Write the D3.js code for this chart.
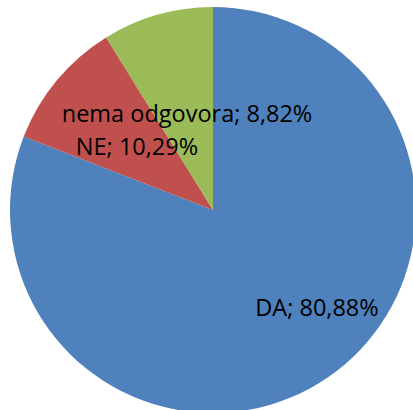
<!DOCTYPE html>
<html>
<head>
<meta charset="utf-8">
<script src="https://cdn.jsdelivr.net/npm/d3@7"></script>
<style>
  body { margin: 0; background: #fff; }
  svg { display: block; }
</style>
</head>
<body>
<div id="container"></div>
<script>
/* DATA */
const categories = ["DA", "NE", "nema odgovora"];
const values = [80.88, 10.29, 8.82];
const labels = ["DA; 80,88%", "NE; 10,29%", "nema odgovora; 8,82%"];

/* CONSTANTS AND GLOBALS */
const width = 413,
  height = 410,
  cx = 213,
  cy = 210,
  radius = 203;

const colors = ["#4F81BD", "#C0504D", "#9BBB59"];
// where Excel left the data labels (label centre x / baseline y, relative to pie centre)
const labelPos = [[104, 106], [-76, -55], [-26, -88]];

const rows = categories.map((c, i) => ({ cat: c, value: values[i], label: labels[i] }));

const svg = d3.select("#container")
  .append("svg")
  .attr("width", width)
  .attr("height", height);

const g = svg.append("g")
  .attr("transform", `translate(${cx}, ${cy})`);

const pie = d3.pie()
  .value(d => d.value)
  .sort(null);

const arcGen = d3.arc()
  .innerRadius(0)
  .outerRadius(radius);

const arcs = pie(rows);

g.selectAll("path.slice")
  .data(arcs)
  .join("path")
  .attr("class", "slice")
  .attr("d", arcGen)
  .attr("fill", (d, i) => colors[i])
  .attr("stroke", "none");

g.selectAll("text.lbl")
  .data(arcs)
  .join("text")
  .attr("class", "lbl")
  .attr("x", (d, i) => labelPos[i][0])
  .attr("y", (d, i) => labelPos[i][1])
  .attr("text-anchor", "middle")
  .attr("font-family", "'Open Sans', 'Noto Sans', sans-serif")
  .attr("font-size", 23.5)
  .attr("fill", "#000")
  .text(d => d.data.label);
</script>
</body>
</html>
